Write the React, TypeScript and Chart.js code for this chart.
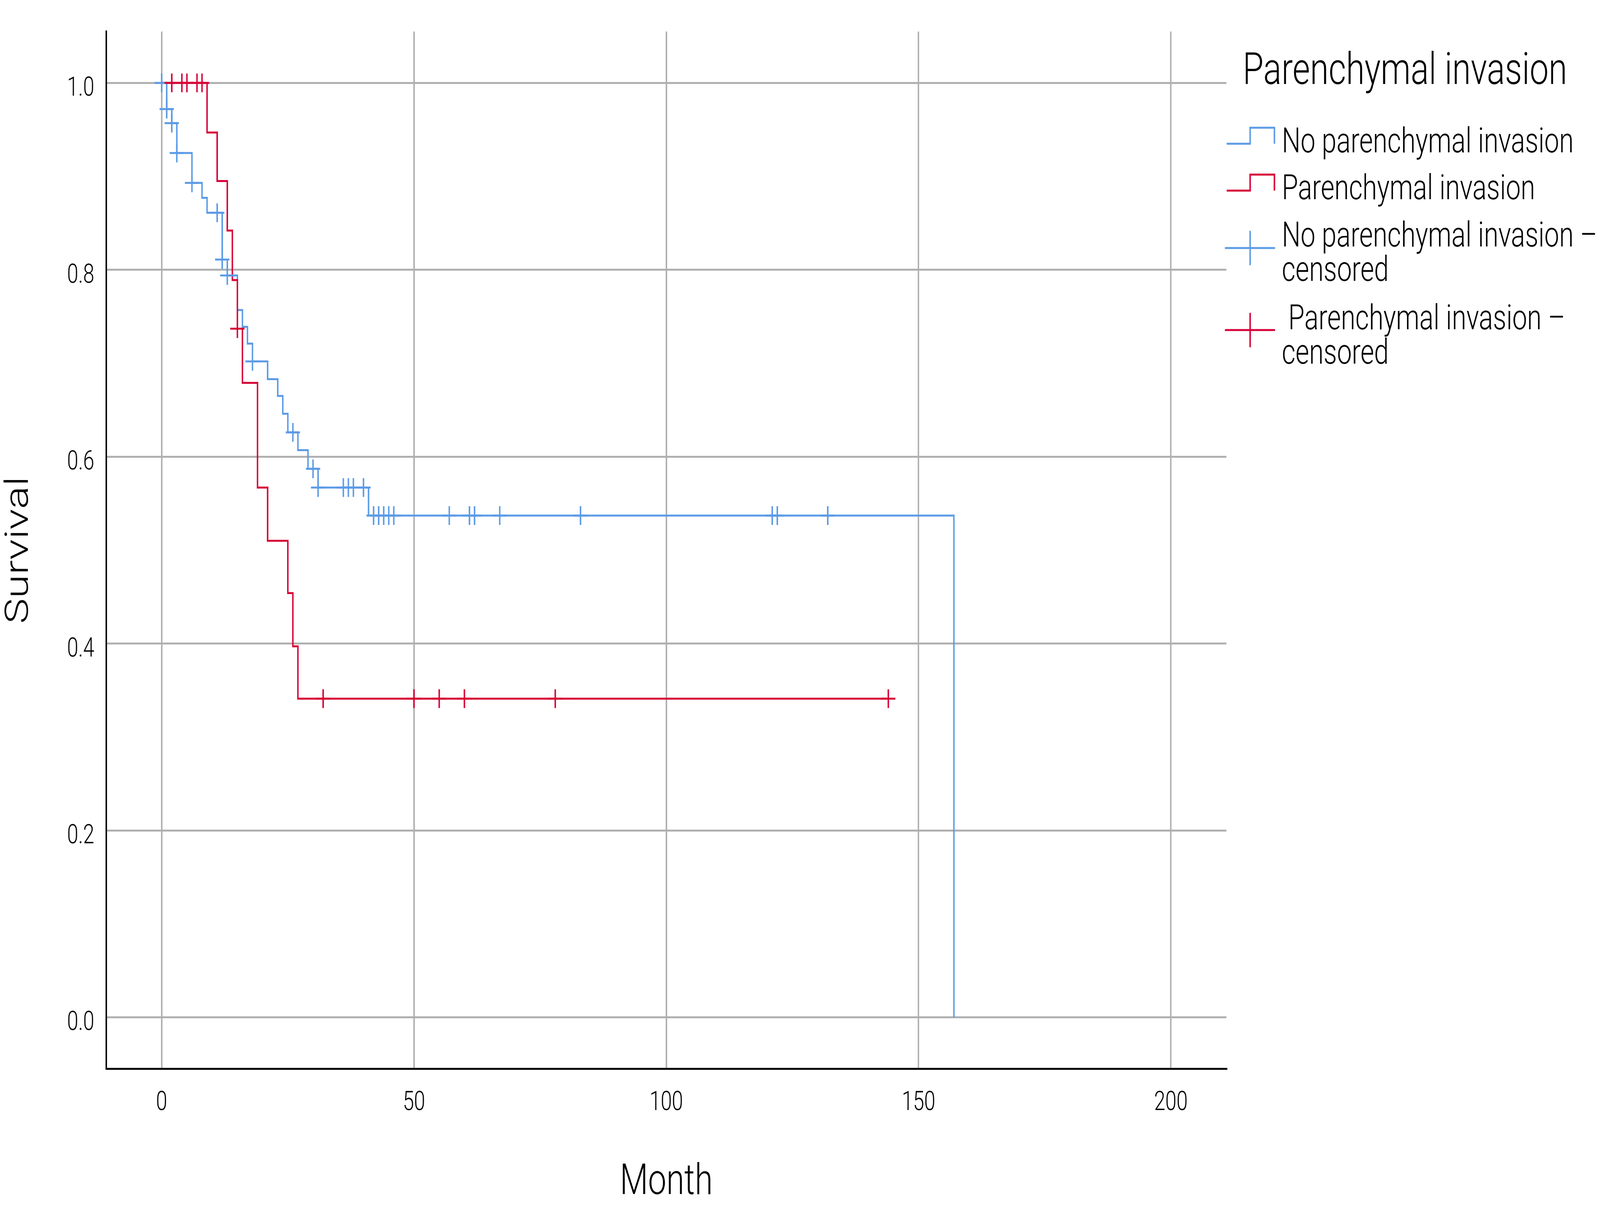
import { useEffect, useRef } from 'react';
import { Chart, registerables, Plugin } from 'chart.js';

Chart.register(...registerables);

// Kaplan-Meier steps (month, cumulative survival)
const noInvasionTimes = [0, 1, 2, 3, 6, 8, 9, 12, 13, 15, 16, 17, 18, 21, 23, 24, 25, 27, 29, 31, 41, 157];
const noInvasionSurv = [1, 0.972, 0.957, 0.925, 0.893, 0.877, 0.861, 0.811, 0.794, 0.757, 0.739, 0.721, 0.702, 0.683, 0.665, 0.646, 0.626, 0.607, 0.587, 0.567, 0.537, 0];
const invasionTimes = [0, 9, 11, 13, 14, 15, 16, 19, 21, 25, 26, 27, 144];
const invasionSurv = [1, 0.947, 0.895, 0.842, 0.789, 0.737, 0.679, 0.567, 0.51, 0.454, 0.397, 0.341, 0.341];

// censored observations (month)
const noInvasionCensored = [0, 1, 2, 3, 6, 11, 12, 13, 18, 26, 30, 31, 36, 37, 38, 40, 42, 43, 44, 45, 46, 57, 61, 62, 67, 83, 121, 122, 132];
const invasionCensored = [2, 4, 5, 7, 8, 15, 32, 50, 55, 60, 78, 144];

const legendTitle = 'Parenchymal invasion';
const groupNames = ['No parenchymal invasion', 'Parenchymal invasion'];
const censoredNames = [['No parenchymal invasion –', 'censored'], [' Parenchymal invasion –', 'censored']];

const BLUE = '#5b9be6';
const RED = '#d70036';
const FONT = 'Roboto';
const W = 5396;
const H = 3103;

// survival value of the curve at time t (censor marks sit on the curve)
function survAt(times: number[], surv: number[], t: number) {
  let v = surv[0];
  for (let i = 0; i < times.length; i++) {
    if (times[i] <= t) v = surv[i];
  }
  return v;
}

const kmLegend: Plugin = {
  id: 'kmLegend',
  afterDraw(chart) {
    const ctx = chart.ctx;
    ctx.save();
    ctx.fillStyle = '#000';
    ctx.textBaseline = 'alphabetic';
    ctx.textAlign = 'left';
    ctx.font = `300 114px ${FONT}`;
    ctx.fillText(legendTitle, 4191, 215);

    ctx.font = `300 89px ${FONT}`;
    ctx.lineWidth = 5;
    const colors = [BLUE, RED];
    const x0 = 4137, xm = 4216, x1 = 4298, tx = 4323;

    // step icons
    const stepBase = [390, 510];
    stepBase.forEach((b, i) => {
      ctx.strokeStyle = colors[i];
      ctx.beginPath();
      ctx.moveTo(x0, b - 22);
      ctx.lineTo(xm, b - 22);
      ctx.lineTo(xm, b - 63);
      ctx.lineTo(x1, b - 63);
      ctx.lineTo(x1, b - 22);
      ctx.stroke();
      ctx.fillText(groupNames[i], tx, b);
    });

    // censored icons
    const crossY = [635, 845];
    const crossBase = [631, 843];
    ctx.lineCap = 'round';
    crossY.forEach((cy, i) => {
      ctx.strokeStyle = colors[i];
      ctx.beginPath();
      ctx.moveTo(4133, cy);
      ctx.lineTo(x1, cy);
      ctx.moveTo(xm, cy - 42);
      ctx.lineTo(xm, cy + 42);
      ctx.stroke();
      censoredNames[i].forEach((line, k) => {
        ctx.fillText(line, tx, crossBase[i] + k * 88);
      });
    });
    ctx.restore();
  }
};

export default function App() {
  const canvasRef = useRef<HTMLCanvasElement>(null);
  const chartRef = useRef<Chart | null>(null);

  useEffect(() => {
    document.body.style.margin = '0';
    document.body.style.overflow = 'hidden';
    if (!canvasRef.current) return;
    const ctx = canvasRef.current.getContext('2d');
    if (!ctx) return;
    if (chartRef.current) chartRef.current.destroy();

    const tickFont = { family: FONT, size: 68, weight: '300' as any };
    const titleFont = { family: FONT, size: 110, weight: '300' as any };

    chartRef.current = new Chart(ctx, {
      type: 'line',
      data: {
        datasets: [
          {
            label: groupNames[0],
            data: noInvasionTimes.map((t, i) => ({ x: t, y: noInvasionSurv[i] })),
            borderColor: BLUE,
            borderWidth: 5,
            stepped: true,
            pointRadius: 0,
            fill: false,
            order: 4
          },
          {
            label: groupNames[1],
            data: invasionTimes.map((t, i) => ({ x: t, y: invasionSurv[i] })),
            borderColor: RED,
            borderWidth: 5,
            stepped: true,
            pointRadius: 0,
            fill: false,
            order: 3
          },
          {
            label: censoredNames[0].join(' '),
            data: noInvasionCensored.map((t) => ({ x: t, y: survAt(noInvasionTimes, noInvasionSurv, t) })),
            showLine: false,
            pointStyle: 'cross',
            pointRadius: 24,
            pointBorderWidth: 5,
            pointBorderColor: BLUE,
            borderColor: BLUE,
            order: 2
          },
          {
            label: censoredNames[1].join(' '),
            data: invasionCensored.map((t) => ({ x: t, y: survAt(invasionTimes, invasionSurv, t) })),
            showLine: false,
            pointStyle: 'cross',
            pointRadius: 24,
            pointBorderWidth: 5,
            pointBorderColor: RED,
            borderColor: RED,
            order: 1
          }
        ]
      },
      options: {
        animation: false,
        responsive: false,
        devicePixelRatio: 1,
        layout: { padding: { left: 0, top: 76, right: 1260, bottom: 0 } },
        plugins: {
          legend: { display: false },
          tooltip: { enabled: false }
        },
        scales: {
          x: {
            type: 'linear',
            min: -11,
            max: 211,
            afterFit: (s) => { s.height = 367; },
            ticks: {
              stepSize: 50,
              includeBounds: false,
              padding: 48,
              color: '#000',
              font: tickFont,
              maxRotation: 0
            },
            grid: { color: '#b0b0b0', lineWidth: 5, drawTicks: false },
            border: { display: true, color: '#000', width: 5 },
            title: {
              display: true,
              text: 'Month',
              color: '#000',
              font: titleFont,
              padding: { top: 0, bottom: 8 }
            }
          },
          y: {
            type: 'linear',
            min: -0.055,
            max: 1.055,
            afterFit: (s) => { s.width = 358; },
            ticks: {
              stepSize: 0.2,
              includeBounds: false,
              padding: 40,
              labelOffset: 16,
              color: '#000',
              font: tickFont,
              callback: (v: any) => Number(v).toFixed(1)
            },
            grid: { color: '#b0b0b0', lineWidth: 5, drawTicks: false },
            border: { display: true, color: '#000', width: 5 },
            title: {
              display: true,
              text: 'Survival',
              color: '#000',
              font: titleFont,
              padding: { top: 0, bottom: 0 }
            }
          }
        }
      },
      plugins: [kmLegend]
    });

    return () => {
      if (chartRef.current) {
        chartRef.current.destroy();
        chartRef.current = null;
      }
    };
  }, []);

  // canvas keeps the reference's pixel grid; CSS fits it to the window
  return (
    <div style={{ width: '100vw', height: '100vh' }}>
      <canvas ref={canvasRef} width={W} height={H} style={{ display: 'block', width: '100vw', height: '100vh' }} />
    </div>
  );
}
